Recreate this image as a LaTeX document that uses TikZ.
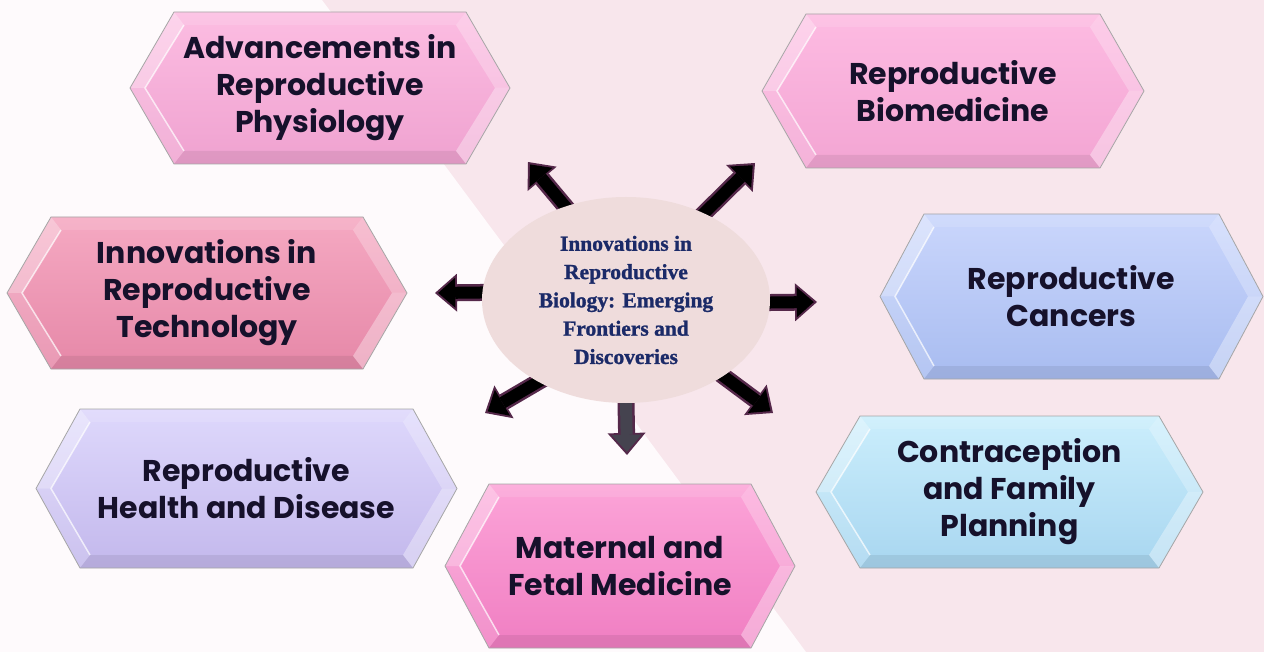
\documentclass[tikz,border=0pt]{standalone}
\usepackage{fontspec}
\newfontfamily\hexafont{Poppins}
\newfontfamily\centrefont{Liberation Serif}[BoldFeatures={FakeBold=1.2}]
\usetikzlibrary{arrows.meta,shapes.geometric}
\pgfdeclarelayer{fond}
\pgfdeclarelayer{arriere}
\pgfsetlayers{fond,arriere,main}
% couleurs
\definecolor{fondrose}{HTML}{F8E6EC}
\definecolor{fondclair}{HTML}{FEFAFC}
\definecolor{encre}{HTML}{16112B}
\definecolor{bleunuit}{HTML}{1B2A68}
\definecolor{bulleclair}{HTML}{EFDCDC}
\definecolor{contour}{HTML}{55284A}
\definecolor{grisfleche}{HTML}{45434F}
\definecolor{physhaut}{HTML}{FCBDE2}\definecolor{physbas}{HTML}{EFA2D0}
\definecolor{biohaut}{HTML}{FDBBE2}\definecolor{biobas}{HTML}{F3A5D3}
\definecolor{techhaut}{HTML}{F5A9C2}\definecolor{techbas}{HTML}{E688A8}
\definecolor{canchaut}{HTML}{CAD6FC}\definecolor{cancbas}{HTML}{A8BCF0}
\definecolor{santhaut}{HTML}{DED8FC}\definecolor{santbas}{HTML}{C3B8EC}
\definecolor{materhaut}{HTML}{FCA4D8}\definecolor{materbas}{HTML}{F07EC2}
\definecolor{conthaut}{HTML}{CBEEFC}\definecolor{contbas}{HTML}{A8D6F0}
\tikzset{
  hexa/.style={inner sep=0pt, outer sep=0pt, align=center, text=encre,
    font=\hexafont\bfseries\fontsize{30}{37}\selectfont},
  bulle/.style={ellipse, fill=bulleclair, inner sep=0pt, outer sep=0pt,
    minimum width=288pt, minimum height=206pt, align=center, text=bleunuit,
    font=\centrefont\bfseries\fontsize{21.5}{28.3}\selectfont},
  fleche contour/.style={contour, line width=17pt, shorten <=-14pt,
    -{Triangle[length=22pt,width=38pt,line width=0pt]}},
  fleche/.style={line width=12pt, shorten <=-14pt, shorten >=3.2pt,
    -{Triangle[length=17pt,width=30pt,line width=0pt]}},
}
\begin{document}
\begin{tikzpicture}[x=1pt,y=-1pt]
    \useasboundingbox (0,0) rectangle (1264,652);
    % Fond : blanc a gauche, rose a droite
    \begin{pgfonlayer}{fond}
        \fill[fondrose] (0,0) rectangle (1264,652);
        \fill[fondclair] (0,0) -- (322,0) -- (806,652) -- (0,652) -- cycle;
    \end{pgfonlayer}
    % Hexagones avec biseau
    \foreach \nom/\cx/\cy/\w/\h/\coul/\texte in {
        phys/320/88/380/152/phys/{Advancements in\\Reproductive\\Physiology},
        biomed/953/91/382/154/bio/{Reproductive\\Biomedicine},
        techno/207/293/400/152/tech/{Innovations in\\Reproductive\\Technology},
        cancers/1071.5/296.5/383/165/canc/{Reproductive\\Cancers},
        sante/246.5/488.5/421/159/sant/{Reproductive\\Health and Disease},
        maternel/620/566/350/164/mater/{Maternal and\\Fetal Medicine},
        contra/1009.5/492/387/152/cont/{Contraception\\and Family\\Planning}}{
        \node[hexa, minimum width=\w pt, minimum height=\h pt] (\nom) at (\cx,\cy) {\texte};
        \begin{pgfonlayer}{arriere}
            \coordinate (o1) at (\nom.west);
            \coordinate (o2) at ([xshift=44pt]\nom.north west);
            \coordinate (o3) at ([xshift=-44pt]\nom.north east);
            \coordinate (o4) at (\nom.east);
            \coordinate (o5) at ([xshift=-44pt]\nom.south east);
            \coordinate (o6) at ([xshift=44pt]\nom.south west);
            \coordinate (i1) at ([xshift=15pt]\nom.west);
            \coordinate (i2) at ([xshift=54pt,yshift=-13pt]\nom.north west);
            \coordinate (i3) at ([xshift=-54pt,yshift=-13pt]\nom.north east);
            \coordinate (i4) at ([xshift=-15pt]\nom.east);
            \coordinate (i5) at ([xshift=-54pt,yshift=13pt]\nom.south east);
            \coordinate (i6) at ([xshift=54pt,yshift=13pt]\nom.south west);
            \shade[top color=\coul haut, bottom color=\coul bas]
                (o1) -- (o2) -- (o3) -- (o4) -- (o5) -- (o6) -- cycle;
            \fill[white, opacity=.12] (o2) -- (o3) -- (i3) -- (i2) -- cycle;
            \fill[white, opacity=.35] (o1) -- (o2) -- (i2) -- (i1) -- cycle;
            \fill[white, opacity=.15] (o6) -- (o1) -- (i1) -- (i6) -- cycle;
            \fill[white, opacity=.25] (o3) -- (o4) -- (i4) -- (i3) -- cycle;
            \fill[white, opacity=.35] (o4) -- (o5) -- (i5) -- (i4) -- cycle;
            \fill[black, opacity=.07] (o5) -- (o6) -- (i6) -- (i5) -- cycle;
            \draw[white, opacity=.7, line width=1.5pt] (i6) -- (i1) -- (i2);
            \draw[black!35, line width=.8pt]
                (o1) -- (o2) -- (o3) -- (o4) -- (o5) -- (o6) -- cycle;
        \end{pgfonlayer}
    }
    % Bulle centrale
    \node[bulle] (centre) at (626,300) {Innovations in\\Reproductive\\Biology: Emerging\\Frontiers and\\Discoveries};
    % Pointes des fleches
    \coordinate (t1) at (528,162);
    \coordinate (t2) at (755,163);
    \coordinate (t3) at (435,293);
    \coordinate (t4) at (817,302);
    \coordinate (t5) at (485,413);
    \coordinate (t6) at (627,455);
    \coordinate (t7) at (773,413);
    \begin{pgfonlayer}{arriere}
        \foreach \ang/\bout/\coul in {123/t1/black, 48/t2/black, 177/t3/black,
            359/t4/black, 223/t5/black, 270/t6/grisfleche, 322/t7/black} {
            \draw[fleche contour] (centre.\ang) -- (\bout);
            \draw[fleche, \coul] (centre.\ang) -- (\bout);}
    \end{pgfonlayer}
\end{tikzpicture}
\end{document}
